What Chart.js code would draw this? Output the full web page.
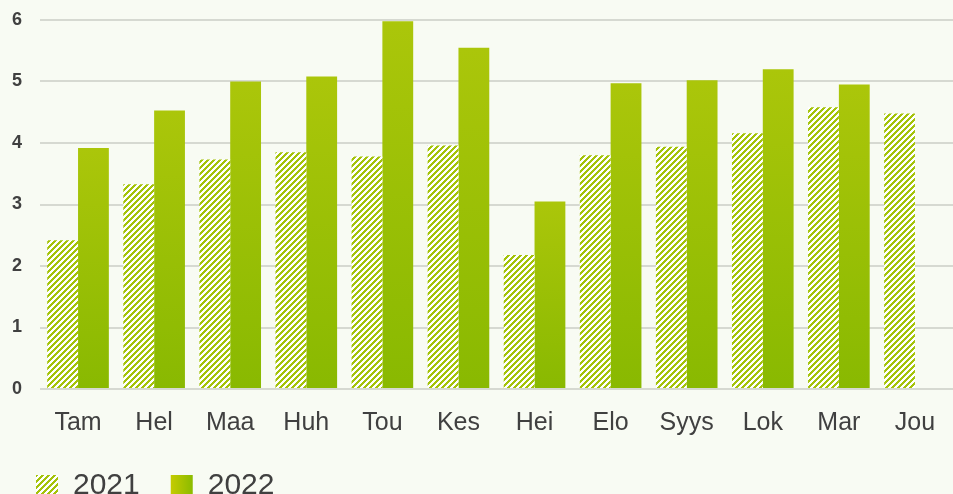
<!DOCTYPE html>
<html>
<head>
<meta charset="utf-8">
<script src="https://cdn.jsdelivr.net/npm/chart.js@4"></script>
<style>
  html, body { margin: 0; padding: 0; background: #f8fbf3; overflow: hidden; }
  #wrap { width: 953px; height: 494px; overflow: hidden; position: relative; }
  #c { display: block; }
</style>
</head>
<body>
<div id="wrap"><canvas id="c" width="953" height="511"></canvas></div>
<script>
const months = ['Tam','Hel','Maa','Huh','Tou','Kes','Hei','Elo','Syys','Lok','Mar','Jou'];
const values2021 = [2.42, 3.33, 3.73, 3.85, 3.78, 3.96, 2.18, 3.80, 3.94, 4.16, 4.58, 4.48];
const values2022 = [3.92, 4.53, 5.00, 5.08, 5.98, 5.55, 3.05, 4.97, 5.02, 5.20, 4.95, null];
const seriesNames = ['2021', '2022'];
const yMin = 0, yMax = 6, yStep = 1;

// hatch pattern "///"
function makeHatch() {
  const p = document.createElement('canvas');
  p.width = 6; p.height = 6;
  const g = p.getContext('2d');
  g.fillStyle = '#ffffff';
  g.fillRect(0, 0, 6, 6);
  g.fillStyle = '#a4c30a';
  for (let x = 0; x < 6; x++) {
    for (let y = 0; y < 6; y++) {
      if ((x + y) % 6 < 3) g.fillRect(x, y, 1, 1);
    }
  }
  return g.createPattern(p, 'repeat');
}
const hatch = makeHatch();

function barGradient(ctx) {
  const chart = ctx.chart;
  if (!chart.chartArea || ctx.raw == null || !chart.scales.y) return '#9cc004';
  const ys = chart.scales.y;
  const top = ys.getPixelForValue(ctx.raw);
  const bot = ys.getPixelForValue(0);
  const g = chart.ctx.createLinearGradient(0, top, 0, bot);
  g.addColorStop(0, '#abc60a');
  g.addColorStop(1, '#89b901');
  return g;
}

const c = document.getElementById('c');
const cctx = c.getContext('2d');
const legendGrad = cctx.createLinearGradient(171, 0, 193, 0);
legendGrad.addColorStop(0, '#c4cb00');
legendGrad.addColorStop(1, '#8abb00');

new Chart(c, {
  type: 'bar',
  data: {
    labels: months,
    datasets: [
      { label: seriesNames[0], data: values2021, backgroundColor: hatch, borderWidth: 0 },
      { label: seriesNames[1], data: values2022, backgroundColor: barGradient, borderWidth: 0 }
    ]
  },
  options: {
    responsive: false,
    animation: false,
    devicePixelRatio: 1,
    layout: { padding: { left: 5, right: -7, top: 20, bottom: 0 } },
    datasets: { bar: { categoryPercentage: 0.81, barPercentage: 1.0 } },
    scales: {
      x: {
        afterFit: (s) => { s.height = 51; s.paddingRight = 0; s.paddingLeft = 0; },
        grid: { display: false, drawTicks: false },
        border: { display: false },
        ticks: {
          padding: 19,
          color: '#404040',
          font: { family: 'Liberation Sans', size: 25, lineHeight: 1.2 }
        }
      },
      y: {
        min: yMin, max: yMax,
        afterFit: (s) => { s.width = 35; },
        grid: { color: '#d6d9d1', lineWidth: 2, drawTicks: false },
        border: { display: false },
        ticks: {
          stepSize: yStep,
          padding: 18,
          color: '#404040',
          font: { family: 'Liberation Sans', size: 18, weight: 'bold', lineHeight: 0.2 }
        }
      }
    },
    plugins: {
      tooltip: { enabled: false },
      legend: {
        position: 'bottom',
        align: 'start',
        labels: {
          boxWidth: 22,
          boxHeight: 22,
          padding: 31,
          color: '#404040',
          font: { family: 'Liberation Sans', size: 30 },
          generateLabels: () => [
            { text: seriesNames[0], fillStyle: hatch, strokeStyle: 'rgba(0,0,0,0)', lineWidth: 0, datasetIndex: 0, fontColor: '#404040' },
            { text: seriesNames[1], fillStyle: legendGrad, strokeStyle: 'rgba(0,0,0,0)', lineWidth: 0, datasetIndex: 1, fontColor: '#404040' }
          ]
        }
      }
    }
  }
});
</script>
</body>
</html>
